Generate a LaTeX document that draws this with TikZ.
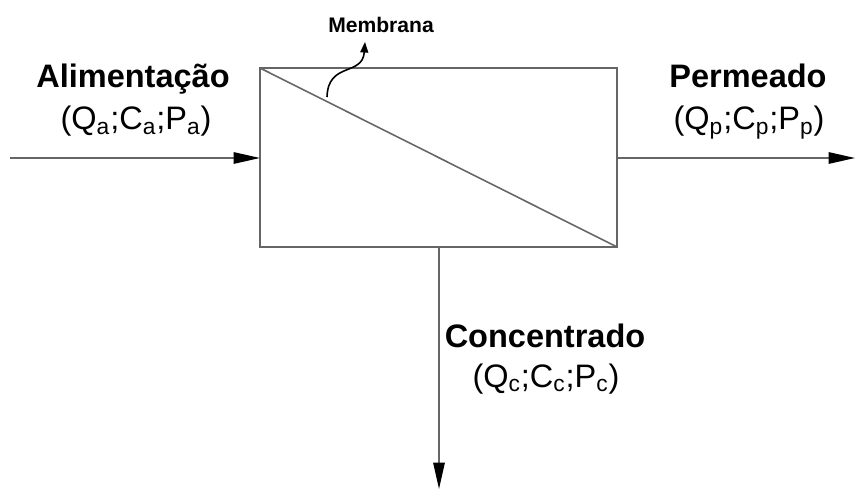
\documentclass[tikz,border=0pt]{standalone}
\usepackage{fontspec}
\setmainfont{Liberation Sans}
\usetikzlibrary{arrows.meta}

\begin{document}
\begin{tikzpicture}[
  flow/.style={draw=black!60,line width=0.9pt,-{Triangle[length=15pt,width=6.5pt,color=black]}},
  title/.style={anchor=base,font=\fontsize{18.5}{20}\selectfont\bfseries},
  vars/.style={anchor=base,font=\fontsize{18.5}{20}\selectfont}]
\useasboundingbox (0,0) rectangle (17.1,9.78);
% modulo
\coordinate (tl) at (5.2,8.42);
\coordinate (br) at (12.34,4.84);
\draw[black!60,line width=0.9pt] (tl) rectangle (br);
\draw[black!60,line width=0.9pt] (tl) -- (br);
% correntes
\coordinate (ain) at (0.2,6.62);
\coordinate (aout) at (5.2,6.62);
\coordinate (pin) at (12.34,6.62);
\coordinate (pout) at (17.1,6.62);
\coordinate (cin) at (8.78,4.84);
\coordinate (cout) at (8.78,0);
\draw[flow] (ain) -- (aout);
\draw[flow] (pin) -- (pout);
\draw[flow] (cin) -- (cout);
% membrana
\coordinate (m0) at (6.54,7.84);
\coordinate (m1) at (7.3,8.94);
\draw[line width=0.9pt,-{Triangle[length=6pt,width=4.5pt]}] (m0) .. controls (6.56,8.55) and (7.25,8.25) .. (m1);
\node[font=\fontsize{12}{14}\selectfont\bfseries] (memb) at (7.62,9.28) {Membrana};
% rotulos
\node[title] (alim) at (2.66,8.02) {Alimentação};
\node[vars] (alimv) at (2.72,7.18) {(Q\textsubscript{a};C\textsubscript{a};P\textsubscript{a})};
\node[title] (perm) at (14.96,8.02) {Permeado};
\node[vars] (permv) at (14.98,7.18) {(Q\textsubscript{p};C\textsubscript{p};P\textsubscript{p})};
\node[title] (conc) at (10.9,2.84) {Concentrado};
\node[vars] (concv) at (10.92,2.04) {(Q\textsubscript{c};C\textsubscript{c};P\textsubscript{c})};
\end{tikzpicture}
\end{document}
